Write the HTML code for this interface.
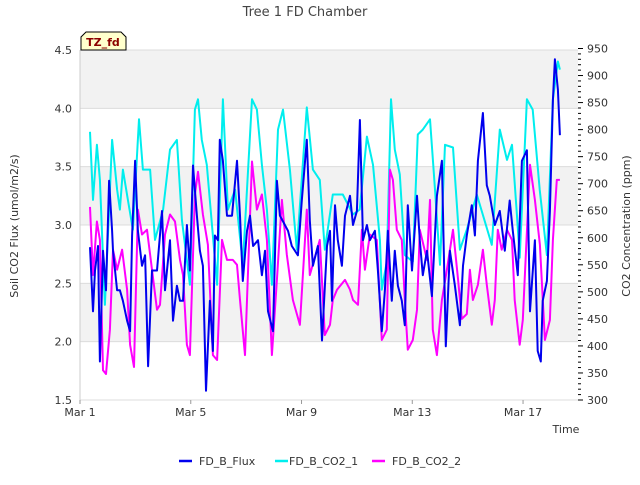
<!DOCTYPE html>
<html><head><meta charset="utf-8"><style>
body{margin:0;background:#fff;}
svg text{font-family:"DejaVu Sans","Liberation Sans",sans-serif;}
</style></head><body>
<svg id="chart" width="640" height="480" xmlns="http://www.w3.org/2000/svg">
<rect width="640" height="480" fill="#fff"/>
<text x="305" y="16" font-size="13" fill="#444" text-anchor="middle">Tree 1 FD Chamber</text>
<g id="bands"></g>
<g id="series"></g>
<g id="axes"></g>
<g>
<path d="M86,32 L121,32 L126,37 L126,50 L81,50 L81,37 Z" fill="#ffffcc" stroke="#000" stroke-width="1"/>
<text x="103" y="46" font-size="11" font-weight="bold" fill="#8b0000" text-anchor="middle">TZ_fd</text>
</g>
<text transform="translate(18,226) rotate(-90)" font-size="11" fill="#333" text-anchor="middle">Soil CO2 Flux (umol/m2/s)</text>
<text transform="translate(630,226) rotate(-90)" font-size="11" fill="#333" text-anchor="middle">CO2 Concentration (ppm)</text>
<text x="566" y="433" font-size="11" fill="#333" text-anchor="middle">Time</text>
<g>
<g><line x1="179" y1="461" x2="192" y2="461" stroke="#0000ee" stroke-width="2.5"/><text x="199" y="465" font-size="11" fill="#333">FD_B_Flux</text></g>
<g><line x1="275" y1="461" x2="288" y2="461" stroke="#00eeee" stroke-width="2.5"/><text x="289" y="465" font-size="11" fill="#333">FD_B_CO2_1</text></g>
<g><line x1="372" y1="461" x2="385" y2="461" stroke="#ff00ff" stroke-width="2.5"/><text x="392" y="465" font-size="11" fill="#333">FD_B_CO2_2</text></g>
</g>
</svg>
<script>
const xTickLabels=["Mar 1","Mar 5","Mar 9","Mar 13","Mar 17"];
const xTickDays=[0,4,8,12,16];
const leftTicks=[1.5,2.0,2.5,3.0,3.5,4.0,4.5];
const rightTicks=[300,350,400,450,500,550,600,650,700,750,800,850,900,950];
const fluxT=[0.36,0.47,0.54,0.65,0.72,0.83,0.94,1.05,1.16,1.19,1.34,1.44,1.55,1.70,1.81,1.88,1.99,2.09,2.24,2.35,2.46,2.60,2.78,2.96,3.07,3.25,3.36,3.50,3.61,3.72,3.86,3.97,4.08,4.22,4.33,4.44,4.55,4.69,4.80,4.87,4.98,5.05,5.16,5.31,5.49,5.67,5.78,5.88,6.03,6.14,6.25,6.43,6.57,6.68,6.79,6.97,7.11,7.22,7.40,7.51,7.65,7.87,8.01,8.19,8.30,8.41,8.59,8.74,8.92,9.03,9.10,9.21,9.31,9.46,9.57,9.75,9.86,10.0,10.11,10.22,10.36,10.47,10.65,10.76,10.90,11.01,11.12,11.26,11.37,11.48,11.62,11.73,11.84,11.99,12.17,12.27,12.38,12.53,12.71,12.89,13.07,13.21,13.36,13.54,13.72,13.83,13.97,14.15,14.26,14.37,14.55,14.69,14.80,14.98,15.16,15.34,15.52,15.63,15.81,15.96,16.14,16.25,16.43,16.53,16.64,16.71,16.86,16.97,17.08,17.15,17.26,17.33];
const fluxV=[2.81,2.26,2.61,2.82,1.83,2.78,2.44,3.38,2.95,2.78,2.44,2.44,2.35,2.18,2.09,2.91,3.55,2.95,2.65,2.74,1.79,2.61,2.61,3.12,2.44,2.87,2.18,2.48,2.35,2.35,3.00,2.61,3.51,3.08,2.78,2.65,1.58,2.35,1.92,2.91,2.87,3.73,3.55,3.08,3.08,3.55,3.08,2.52,2.95,3.08,2.82,2.87,2.57,2.78,2.26,2.09,3.38,3.08,3.00,2.95,2.82,2.74,3.21,3.73,3.04,2.65,2.82,2.01,2.82,2.95,2.35,3.17,2.87,2.65,3.08,3.25,3.00,3.12,3.90,2.87,3.00,2.87,2.95,2.61,2.09,2.44,2.95,2.35,2.78,2.48,2.35,2.14,3.17,2.61,3.25,2.87,2.57,2.78,2.39,3.25,3.55,1.96,2.78,2.48,2.14,2.65,2.91,3.17,2.91,3.55,3.96,3.34,3.25,3.00,3.12,2.78,3.21,2.95,2.57,3.55,3.64,2.26,2.87,1.92,1.83,2.35,2.52,3.12,4.07,4.42,4.16,3.77];
const co2aT=[0.36,0.47,0.61,0.72,0.90,1.16,1.34,1.44,1.55,1.73,1.91,2.13,2.27,2.53,2.71,3.00,3.25,3.50,3.68,3.97,4.15,4.26,4.40,4.58,4.95,5.16,5.34,5.60,5.88,6.21,6.39,6.57,6.75,6.93,7.15,7.33,7.58,7.83,8.19,8.41,8.66,8.84,9.13,9.49,9.86,10.1,10.36,10.58,10.83,10.9,11.08,11.23,11.37,11.55,11.73,12.02,12.2,12.38,12.64,12.82,13.0,13.18,13.47,13.72,13.97,14.33,14.87,15.16,15.42,15.6,15.78,15.88,16.14,16.35,16.6,16.86,17.08,17.26,17.33];
const co2aV=[796,670,772,707,476,781,689,652,726,670,615,819,726,726,596,652,763,781,633,513,837,856,781,735,513,856,652,689,550,856,837,735,652,513,800,837,726,578,841,726,707,578,680,680,643,652,787,735,596,504,556,856,763,717,568,556,791,800,819,689,550,772,767,578,615,680,587,800,744,772,643,563,856,837,689,568,856,926,911];
const co2bT=[0.36,0.47,0.61,0.72,0.83,0.94,1.08,1.19,1.34,1.52,1.70,1.81,1.95,2.09,2.24,2.42,2.60,2.78,2.89,3.07,3.25,3.43,3.61,3.72,3.86,3.97,4.15,4.26,4.44,4.62,4.80,4.95,5.13,5.31,5.52,5.67,5.78,5.96,6.21,6.39,6.57,6.75,6.93,7.11,7.29,7.47,7.69,7.94,8.19,8.30,8.66,8.84,9.03,9.13,9.28,9.57,9.75,9.86,10.04,10.18,10.29,10.47,10.72,10.90,11.08,11.19,11.30,11.44,11.62,11.73,11.84,12.02,12.17,12.27,12.53,12.64,12.74,12.89,13.07,13.25,13.47,13.65,13.79,13.97,14.08,14.19,14.37,14.55,14.69,14.87,14.98,15.09,15.23,15.42,15.60,15.70,15.88,15.99,16.25,16.43,16.61,16.79,16.97,17.08,17.22,17.33];
const co2bV=[657,531,630,596,355,348,430,578,541,578,504,402,361,652,606,615,541,467,476,606,643,630,559,531,402,383,680,722,643,587,383,374,596,559,559,550,485,383,741,652,680,596,383,522,670,569,485,439,652,531,596,420,439,485,504,522,504,485,476,615,541,606,596,411,430,726,707,615,596,485,393,411,467,615,559,670,430,383,485,541,615,524,450,459,541,485,513,578,513,439,485,615,578,615,596,485,402,448,735,670,587,411,448,596,707,707];

const L=80,R=578,T=50,B=400;
const xS=d=>L+d*27.69;
const yL=v=>B-(v-1.5)/3*(B-T);
const yR=v=>B-(v-300)/650*(B-T+1.5);
const NS="http://www.w3.org/2000/svg";
function mk(tag,attrs,parent){const e=document.createElementNS(NS,tag);for(const k in attrs)e.setAttribute(k,attrs[k]);parent.appendChild(e);return e;}
const bands=document.getElementById('bands'),series=document.getElementById('series'),axes=document.getElementById('axes');
const bg=mk('rect',{x:L,y:T,width:R-L,height:B-T,fill:'#fff'},bands);


for(let i=0;i<leftTicks.length-1;i++){
  if(i%2===1){
    const b=mk('rect',{x:L,y:yL(leftTicks[i+1]),width:R-L,height:yL(leftTicks[i])-yL(leftTicks[i+1]),fill:'#f2f2f2'},bands);
    
    
  }
}
leftTicks.forEach(v=>{
  const g=mk('line',{x1:L,x2:R,y1:yL(v),y2:yL(v),stroke:'#dcdcdc','stroke-width':1},bands);
  
  
});
mk('line',{x1:L,x2:L,y1:T,y2:B,stroke:'#ccc','stroke-width':1},axes);
leftTicks.forEach(v=>{
  const t=mk('text',{x:L-8,y:yL(v)+4,'font-size':11,fill:'#333','text-anchor':'end'},axes);
  t.textContent=v.toFixed(1);
  
  
});
for(let v=300;v<=950;v+=10){
  const major=v%50===0;
  mk('line',{x1:R,x2:R+(major?5:3),y1:yR(v),y2:yR(v),stroke:'#000','stroke-width':1},axes);
}
rightTicks.forEach(v=>{
  const t=mk('text',{x:R+9,y:yR(v)+4,'font-size':11,fill:'#333'},axes);
  t.textContent=v;
  
  
});
xTickDays.forEach((d,i)=>{
  mk('line',{x1:xS(d),x2:xS(d),y1:B,y2:B+4,stroke:'#999','stroke-width':1},axes);
  const t=mk('text',{x:xS(d),y:B+16,'font-size':11,fill:'#333','text-anchor':'middle'},axes);
  t.textContent=xTickLabels[i];
  
  
});
function line(ts,vs,ys,color,name){
  const d=ts.map((t,i)=>(i?'L':'M')+xS(t).toFixed(1)+','+ys(vs[i]).toFixed(1)).join(' ');
  const p=mk('path',{d:d,fill:'none',stroke:color,'stroke-width':2,'stroke-linejoin':'round'},series);
  
  
}
line(co2aT,co2aV,yR,'#00eeee','series-fd-b-co2-1');
line(co2bT,co2bV,yR,'#ff00ff','series-fd-b-co2-2');
line(fluxT,fluxV,yL,'#0000ee','series-fd-b-flux');
</script>
</body></html>
